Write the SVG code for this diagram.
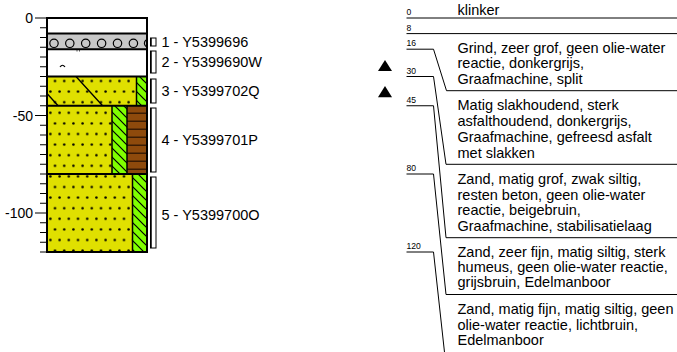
<svg xmlns="http://www.w3.org/2000/svg" width="677" height="352" viewBox="0 0 677 352">
  <style>
    text { font-family: "Liberation Sans", Arial, Helvetica, sans-serif; fill: #000; }
    .tick { font-size: 14px; text-anchor: end; }
    .lbl { font-size: 14.5px; }
    .dsc { font-size: 14.5px; }
    .dep { font-size: 8.6px; }
    .ln { stroke: #000; stroke-width: 1; fill: none; }
    .bd { stroke: #000; stroke-width: 2; fill: none; }
    .sep { stroke: #000; stroke-width: 1.5; fill: none; }
    .sand { fill: #E0E000; }
    .dot { fill: url(#dots); }
    .silt { fill: url(#hatch); }
    .bracket { fill: #fff; stroke: #000; stroke-width: 1; }
  </style>
  <defs>
    <!-- staggered dot fill for sand -->
    <pattern id="dots" patternUnits="userSpaceOnUse" x="52.7" y="75.7" width="9.2" height="21.2">
      <circle cx="2.3" cy="5.3" r="1.25" fill="#000"/>
      <circle cx="6.9" cy="15.9" r="1.25" fill="#000"/>
    </pattern>
    <!-- diagonal hatch for silt -->
    <pattern id="hatch" patternUnits="userSpaceOnUse" x="0" y="0" width="9" height="9">
      <rect width="9" height="9" fill="#80FF00"/>
      <path d="M-1,-1 L10,10 M-1,8 L1,10 M8,-1 L10,1" stroke="#000" stroke-width="1.2"/>
    </pattern>
  </defs>

  <!-- depth scale -->
  <g id="depth-scale">
    <path class="ln" d="M35,18 H47 M40,27.75 H47 M40,37.5 H47 M40,47.25 H47 M40,57 H47 M40,66.75 H47 M40,76.5 H47 M40,86.25 H47 M40,96 H47 M40,105.75 H47
      M35,115.5 H47 M40,125.25 H47 M40,135 H47 M40,144.75 H47 M40,154.5 H47 M40,164.25 H47 M40,174 H47 M40,183.75 H47 M40,193.5 H47 M40,203.25 H47
      M35,213 H47 M40,222.75 H47 M40,232.5 H47 M40,242.25 H47 M40,252 H47"/>
    <text class="tick" x="33" y="23">0</text>
    <text class="tick" x="33" y="120.5">-50</text>
    <text class="tick" x="33" y="218">-100</text>
  </g>

  <!-- soil column -->
  <g id="layer-1">
    <rect x="47" y="18" width="100" height="15.6" fill="#fff"/>
  </g>
  <g id="layer-2">
    <rect x="47" y="33.6" width="100" height="15.6" fill="#C8C8C8"/>
    <g fill="none" stroke="#000" stroke-width="1.2">
      <circle cx="54" cy="43.3" r="4.2"/>
      <circle cx="69.8" cy="43.3" r="4.2"/>
      <circle cx="85.7" cy="43.3" r="4.2"/>
      <circle cx="101.6" cy="43.3" r="4.2"/>
      <circle cx="117.5" cy="43.3" r="4.2"/>
      <circle cx="133.4" cy="43.3" r="4.2"/>
      <path d="M146,40 A4.2,4.2 0 0 0 146,46.6"/>
    </g>
  </g>
  <g id="layer-3">
    <rect x="47" y="49.2" width="100" height="27.3" fill="#fff"/>
    <path d="M60,67 Q62.5,63.5 65,67" fill="none" stroke="#000" stroke-width="1.2"/>
    <circle cx="77" cy="50.8" r="0.6" fill="#000"/>
    <circle cx="79.5" cy="50.8" r="0.6" fill="#000"/>
  </g>
  <g id="layer-4">
    <rect class="sand" x="47" y="76.5" width="89.5" height="29.25"/>
    <rect class="dot" x="47" y="76.5" width="89.5" height="29.25"/>
    <path d="M76,76.5 L102.6,105.75 M47,93.5 L58.1,105.75" stroke="#000" stroke-width="1.3"/>
    <rect class="silt" x="136.5" y="76.5" width="10.5" height="29.25"/>
    <path class="sep" d="M136.5,76.5 V105.75"/>
  </g>
  <g id="layer-5">
    <rect class="sand" x="47" y="105.75" width="65" height="68.25"/>
    <rect class="dot" x="47" y="105.75" width="65" height="68.25"/>
    <rect class="silt" x="112" y="105.75" width="15" height="68.25"/>
    <rect x="127" y="105.75" width="20" height="68.25" fill="#8E4A0C"/>
    <path d="M127,113.3 H147 M127,121.3 H147 M127,129.3 H147 M127,137.3 H147 M127,145.3 H147 M127,153.3 H147 M127,161.3 H147 M127,169.3 H147" stroke="#3A1C04" stroke-width="1.5"/>
    <path class="sep" d="M112,105.75 V174 M127,105.75 V174"/>
  </g>
  <g id="layer-6">
    <rect class="sand" x="47" y="174" width="85.5" height="78"/>
    <rect class="dot" x="47" y="174" width="85.5" height="78"/>
    <rect class="silt" x="132.5" y="174" width="14.5" height="78"/>
    <path class="sep" d="M132.5,174 V252"/>
  </g>
  <g id="layer-boundaries">
    <path class="bd" d="M47,33.6 H147 M47,49.2 H147 M47,76.5 H147 M47,105.75 H147 M47,174 H147"/>
    <rect class="bd" x="47" y="18" width="100" height="234"/>
  </g>

  <!-- samples -->
  <g id="sample-1">
    <rect class="bracket" x="150.5" y="38" width="5.5" height="8"/>
    <path class="sep" d="M151,38 V46"/>
    <text class="lbl" x="161.5" y="46.6">1 - Y5399696</text>
  </g>
  <g id="sample-2">
    <rect class="bracket" x="150.5" y="51" width="5.5" height="22"/>
    <path class="sep" d="M151,51 V73"/>
    <text class="lbl" x="161.5" y="66.6">2 - Y5399690W</text>
  </g>
  <g id="sample-3">
    <rect class="bracket" x="150.5" y="79" width="5.5" height="24"/>
    <path class="sep" d="M151,79 V103"/>
    <text class="lbl" x="161.5" y="96">3 - Y5399702Q</text>
  </g>
  <g id="sample-4">
    <rect class="bracket" x="150.5" y="108" width="5.5" height="64"/>
    <path class="sep" d="M151,108 V172"/>
    <text class="lbl" x="161.5" y="145">4 - Y5399701P</text>
  </g>
  <g id="sample-5">
    <rect class="bracket" x="150.5" y="177" width="5.5" height="71"/>
    <path class="sep" d="M151,177 V248"/>
    <text class="lbl" x="161.5" y="220">5 - Y5399700O</text>
  </g>

  <!-- observation markers -->
  <g id="markers" fill="#000">
    <polygon points="378,71 385,60 392,71"/>
    <polygon points="378,97.3 385,86 392,97.3"/>
  </g>

  <!-- depth leaders from the depth labels to the description boxes -->
  <g id="connectors">
    <path class="ln" d="M406.5,18 H677"/>
    <path class="ln" d="M406.5,33.6 H677"/>
    <path class="ln" d="M406.5,49.2 H433.5 L446.5,90.7 H677"/>
    <path class="ln" d="M406.5,76.5 H433.5 L446,164.3 H677"/>
    <path class="ln" d="M406.5,105.75 H433.5 L446,237.7 H677"/>
    <path class="ln" d="M406.5,174 H433.5 L446,294.5 H677"/>
    <path class="ln" d="M406.5,252 H433.5 L447,375"/>
  </g>
  <g id="depth-labels">
    <text class="dep" x="406.5" y="15">0</text>
    <text class="dep" x="406.5" y="30.6">8</text>
    <text class="dep" x="406.5" y="46.2">16</text>
    <text class="dep" x="406.5" y="73.5">30</text>
    <text class="dep" x="406.5" y="102.8">45</text>
    <text class="dep" x="406.5" y="171">80</text>
    <text class="dep" x="406.5" y="249">120</text>
  </g>

  <!-- layer descriptions -->
  <g id="desc-1">
    <text class="dsc" x="457.5" y="15.3">klinker</text>
  </g>
  <g id="desc-2">
    <text class="dsc" x="457.5" y="53">Grind, zeer grof, geen olie-water</text>
    <text class="dsc" x="457.5" y="68.3">reactie, donkergrijs,</text>
    <text class="dsc" x="457.5" y="83.6">Graafmachine, split</text>
  </g>
  <g id="desc-3">
    <text class="dsc" x="457.5" y="110">Matig slakhoudend, sterk</text>
    <text class="dsc" x="457.5" y="126">asfalthoudend, donkergrijs,</text>
    <text class="dsc" x="457.5" y="142">Graafmachine, gefreesd asfalt</text>
    <text class="dsc" x="457.5" y="158">met slakken</text>
  </g>
  <g id="desc-4">
    <text class="dsc" x="457.5" y="184">Zand, matig grof, zwak siltig,</text>
    <text class="dsc" x="457.5" y="199.5">resten beton, geen olie-water</text>
    <text class="dsc" x="457.5" y="215">reactie, beigebruin,</text>
    <text class="dsc" x="457.5" y="230.5">Graafmachine, stabilisatielaag</text>
  </g>
  <g id="desc-5">
    <text class="dsc" x="457.5" y="256.5">Zand, zeer fijn, matig siltig, sterk</text>
    <text class="dsc" x="457.5" y="271.7">humeus, geen olie-water reactie,</text>
    <text class="dsc" x="457.5" y="287">grijsbruin, Edelmanboor</text>
  </g>
  <g id="desc-6">
    <text class="dsc" x="457.5" y="314.3">Zand, matig fijn, matig siltig, geen</text>
    <text class="dsc" x="457.5" y="329.5">olie-water reactie, lichtbruin,</text>
    <text class="dsc" x="457.5" y="344.7">Edelmanboor</text>
  </g>
</svg>
